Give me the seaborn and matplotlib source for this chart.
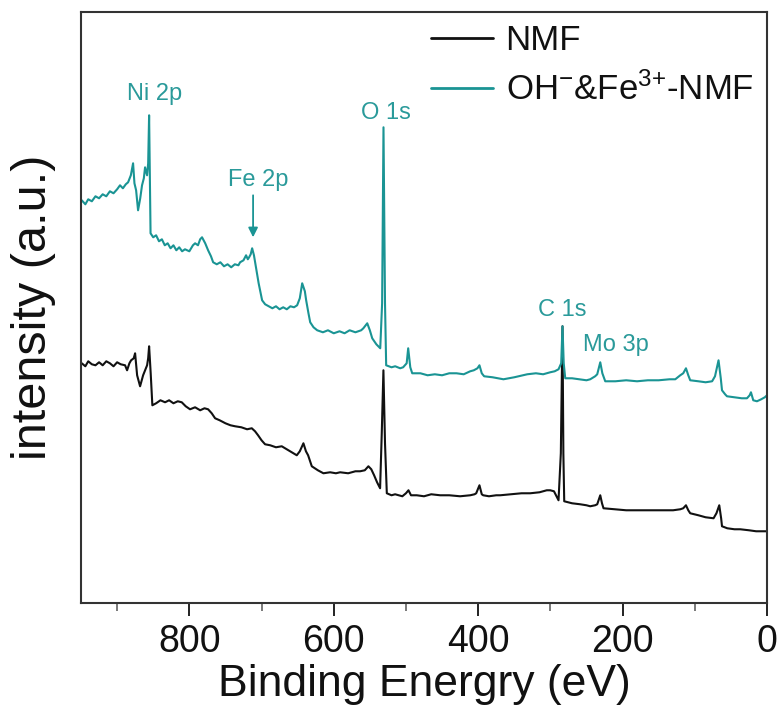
import numpy as np
import pandas as pd
import matplotlib
matplotlib.use("Agg")
import matplotlib.pyplot as plt
import seaborn as sns
from matplotlib.ticker import MultipleLocator

# ---- data (binding energy in eV, intensity in a.u.) ----
teal_energy = [949, 944, 940, 935, 930, 925, 920, 915, 910, 905, 900, 896, 892, 888, 884.8,
               881, 877.9, 876, 873.7, 871, 868, 865.5, 863, 861.3, 858.5, 857, 855.7, 853.7,
               850, 846, 842, 838, 834, 830, 826, 822, 818, 814, 810, 806, 800, 795, 792,
               788, 785, 782.4, 778, 774, 770, 767, 762, 757, 752, 747, 742, 737, 732, 729.7,
               725, 721.4, 719, 717.2, 715, 713, 710.5, 708.9, 704, 699.2, 695, 690, 685, 680,
               675, 670, 665, 660, 655, 650.7, 647, 643.7, 640, 638.2, 635, 632.6, 628, 622.9,
               615, 608, 600, 592, 585, 578, 570, 562, 559, 553.6, 550, 546.7, 541, 535.6,
               533, 531.1, 529, 527.4, 520, 514.9, 508, 503.9, 499, 496.9, 494, 491.3, 480,
               470, 460, 450, 440, 430, 420, 411, 406, 401, 398.2, 395, 391.7, 380, 365, 350,
               332, 320, 310, 300.2, 294, 288.7, 285, 283.2, 281.5, 279.4, 270, 260, 250,
               244.8, 238, 235.1, 230.9, 228, 224, 210, 195, 180, 165, 150, 135, 127, 120.1,
               116, 112.2, 109, 106.3, 95, 85, 76, 72, 67.1, 64, 62.3, 58, 55.4, 45, 35, 27.7,
               24, 22.2, 19, 13.9, 8, 3, 0]
teal_intensity = [403, 399, 404, 402, 407, 405, 409, 407, 412, 410, 414, 418, 415, 419, 421,
                  428, 440, 420, 413, 393, 405, 418, 425, 436, 428, 440, 488, 370,
                  366, 368, 362, 364, 358, 360, 355, 358, 353, 356, 352, 354, 352, 358, 360,
                  358, 364, 366, 360, 353, 347, 341, 339, 341, 337, 339, 336, 339, 338, 341,
                  343, 348, 344, 346, 349, 355, 348, 341, 320, 303, 299, 297, 295, 297,
                  294, 296, 294, 297, 296, 298, 305, 320, 312, 303, 290, 281, 276, 273,
                  271, 273, 270, 272, 270, 273, 271, 273, 275, 280, 273, 265, 259, 255,
                  300, 476, 300, 238, 236, 237, 235, 236, 240, 255, 236, 230, 230,
                  228, 229, 228, 230, 230, 229, 232, 233, 235, 238, 230, 227, 226, 224, 226,
                  229, 230, 229, 231, 232, 234, 240, 277, 240, 225, 225, 224, 223,
                  224, 227, 229, 241, 230, 222, 222, 223, 222, 223, 223, 224, 224, 228,
                  230, 235, 228, 223, 222, 221, 222, 227, 243, 225, 213, 209, 207, 206, 205, 205,
                  208, 211, 203, 202, 204, 206, 208]

black_energy = [949, 944, 940, 935, 930, 925, 920, 915, 910, 905, 900, 895, 889, 886.2, 883,
                880.6, 877, 875.1, 872.3, 868.2, 864, 861.3, 858.5, 857, 855.7, 853.5, 851.2,
                846, 840, 833.6, 828, 822, 816, 810.5, 805, 799, 792, 785, 779, 774, 769, 764.3,
                758, 750, 743, 736.6, 728, 720, 713.5, 709, 704.8, 700, 695.1, 688, 680, 672,
                665, 658, 651.2, 647, 642, 638.5, 635.5, 630.4, 622, 614.3, 605, 597, 591.2,
                580, 570, 563.5, 557, 552, 548, 544.1, 540, 535.8, 533.5, 531.2, 529, 526.5,
                520, 515, 505, 500, 496.5, 493, 485, 475, 465, 452.6, 440, 425, 411, 405, 402.7,
                398.2, 395, 393, 385, 375, 369.5, 355, 340, 327.9, 315, 305, 300.2, 295, 288.7,
                285.5, 283.2, 282, 280.8, 270, 258.7, 250, 244.8, 238, 235.1, 230.9, 228.5,
                226.4, 210, 195, 175.5, 150, 130, 120.1, 116, 112.2, 109, 106.3, 95, 85, 74, 70,
                66.1, 63.5, 62.3, 55, 45, 37, 25, 15, 5, 0]
black_intensity = [240, 237, 242, 239, 238, 241, 238, 242, 240, 237, 241, 239, 238, 233, 240,
                   243, 245, 250, 228, 217, 228, 233, 238, 245, 257, 230, 198,
                   200, 203, 201, 203, 200, 202, 201, 197, 194, 196, 193, 195, 194, 190, 185,
                   183, 180, 178, 177, 176, 174, 175, 172, 168, 163, 159, 158, 156, 157,
                   154, 151, 148, 152, 160, 152, 148, 137, 133, 130, 131, 130, 131,
                   130, 132, 132, 133, 137, 134, 128, 121, 115, 170, 233, 160, 110,
                   108, 109, 107, 110, 113, 108, 108, 107, 109, 108, 108, 107, 108, 109, 110,
                   118, 109, 108, 107, 108, 108, 109, 110, 110, 111, 113, 113, 112, 103,
                   150, 277, 150, 102, 100, 99, 98, 97, 98, 99, 108, 100,
                   95, 94, 93, 93, 93, 93, 94, 95, 98, 93, 90, 88, 86, 85, 90,
                   98, 85, 77, 75, 74, 74, 73, 72, 72, 72]

series_labels = ["NMF", "OH$^{-}$&Fe$^{3{+}}$-NMF"]
peak_labels = ["Ni 2p", "Fe 2p", "O 1s", "C 1s", "Mo 3p"]
peak_label_energy = [848.6, 704.8, 527.5, 283.6, 208.8]
peak_label_intensity = [509, 423, 490, 293, 258]
fe_arrow_energy = 711.7
fe_arrow_from, fe_arrow_to = 408, 366

x_ticks = [800, 600, 400, 200, 0]

# ---- style ----
sns.set_style("white")
plt.rcParams['font.family'] = ['Liberation Sans', 'DejaVu Sans']
plt.rcParams['mathtext.fontset'] = 'custom'
plt.rcParams['mathtext.rm'] = 'Liberation Sans'
plt.rcParams['mathtext.it'] = 'Liberation Sans'
plt.rcParams['text.color'] = '#111111'
plt.rcParams['axes.labelcolor'] = '#111111'

black = "#111111"
teal_line = "#1a9494"
teal_text = "#2a9a9a"

fig = plt.figure(figsize=(7.82, 7.13), dpi=100)
ax = fig.add_axes([0.1036, 0.1539, 0.8772, 0.8297])

df_b = pd.DataFrame({"energy": black_energy, "intensity": black_intensity})
df_t = pd.DataFrame({"energy": teal_energy, "intensity": teal_intensity})
sns.lineplot(data=df_b, x="energy", y="intensity", sort=False, estimator=None,
             color=black, lw=1.5, ax=ax, label=series_labels[0])
sns.lineplot(data=df_t, x="energy", y="intensity", sort=False, estimator=None,
             color=teal_line, lw=1.5, ax=ax, label=series_labels[1])

ax.set_xlim(950, 0)
ax.set_ylim(0, 591.6)
ax.set_xticks(x_ticks)
ax.set_xticklabels([str(t) for t in x_ticks])
ax.xaxis.set_minor_locator(MultipleLocator(100))
ax.set_yticks([])
ax.tick_params(axis='x', which='major', direction='out', length=9, width=1.3,
               labelsize=27, pad=6, colors='#111111', top=False, bottom=True)
ax.tick_params(axis='x', which='minor', direction='out', length=6, width=1.1,
               top=False, bottom=True, colors='#555555')
for s in ax.spines.values():
    s.set_color('#333333')
    s.set_linewidth(1.5)

ax.set_xlabel("Binding Energry (eV)", fontsize=32, labelpad=3, color='#111111')
ax.set_ylabel("intensity (a.u.)", fontsize=35, labelpad=18, color='#111111')

for lab, e, i in zip(peak_labels, peak_label_energy, peak_label_intensity):
    ax.text(e, i, lab, fontsize=17, color=teal_text, ha='center', va='center')

ax.annotate("", xy=(fe_arrow_energy, fe_arrow_to), xytext=(fe_arrow_energy, fe_arrow_from),
            arrowprops=dict(arrowstyle='-|>', color=teal_line, lw=1.3,
                            mutation_scale=14, shrinkA=0, shrinkB=0))

leg = ax.legend(loc='upper left', bbox_to_anchor=(0.505, 0.985), frameon=False,
                fontsize=25, handlelength=1.8, handletextpad=0.35,
                labelspacing=0.45, borderpad=0.1, borderaxespad=0)
for t in leg.get_texts():
    t.set_color('#111111')
for h in leg.get_lines():
    h.set_linewidth(2.0)

fig.savefig("out.png", dpi=100)
